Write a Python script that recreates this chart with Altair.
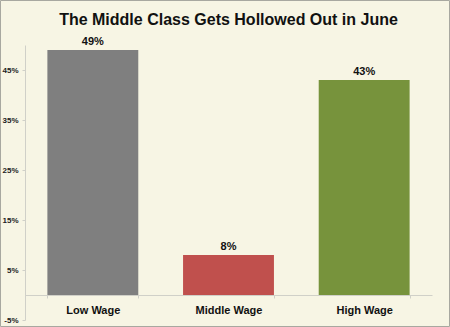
import altair as alt
import pandas as pd

categories = ["Low Wage", "Middle Wage", "High Wage"]
values = [49, 8, 43]
colors = ["#7F7F7F", "#C0504D", "#77933C"]
tick_values = [-5, 5, 15, 25, 35, 45]

df = pd.DataFrame({"cat": categories, "val": values, "color": colors,
                   "label": [f"{v}%" for v in values]})

FONT = "Liberation Sans"
W, H = 407, 275

x = alt.X("cat:N", sort=categories, title=None,
          scale=alt.Scale(paddingInner=0.33, paddingOuter=0.165),
          axis=alt.Axis(offset=-25, labelAngle=0, labelFont=FONT, labelFontSize=11,
                        labelFontWeight="bold", labelColor="#111111", labelPadding=6,
                        domainColor="#D0D0C8", tickColor="#D0D0C8", tickBand="extent",
                        tickSize=3, grid=False))
y = alt.Y("val:Q", title=None,
          scale=alt.Scale(domain=[-5, 50], nice=False, zero=False),
          axis=alt.Axis(values=tick_values, labelExpr="datum.value + '%'", labelFont=FONT,
                        labelFontSize=8, labelFontWeight="bold", labelColor="#222222",
                        domainColor="#D0D0C8", tickColor="#D0D0C8", tickSize=3,
                        labelPadding=4, grid=False))

bars = alt.Chart(df).mark_bar().encode(
    x=x, y=y, y2=alt.datum(0), color=alt.Color("color:N", scale=None))

text = alt.Chart(df).mark_text(dy=-8, font=FONT, fontSize=11, fontWeight="bold",
                               color="#111111").encode(
    x=alt.X("cat:N", sort=categories), y="val:Q", text="label:N")

frame = alt.Chart(df.head(1)).mark_rect(fill=None, stroke="#A8A8A0", strokeWidth=1).encode(
    x=alt.value(-24.5), x2=alt.value(W + 17.5), y=alt.value(-44.5), y2=alt.value(H + 6.5))

chart = alt.layer(bars, text, frame).properties(
    width=W, height=H,
    title=alt.Title("The Middle Class Gets Hollowed Out in June", font=FONT, fontSize=16,
                    fontWeight="bold", color="#111111", offset=0, anchor="middle",
                    frame="group", baseline="alphabetic", dy=41),
    background="#F7F5E4",
    padding={"left": 25, "top": 45, "right": 18, "bottom": 7},
    autosize=alt.AutoSizeParams(type="none"),
).configure_view(stroke=None)

chart.save("out.html", embed_options={"renderer": "svg", "actions": False})
